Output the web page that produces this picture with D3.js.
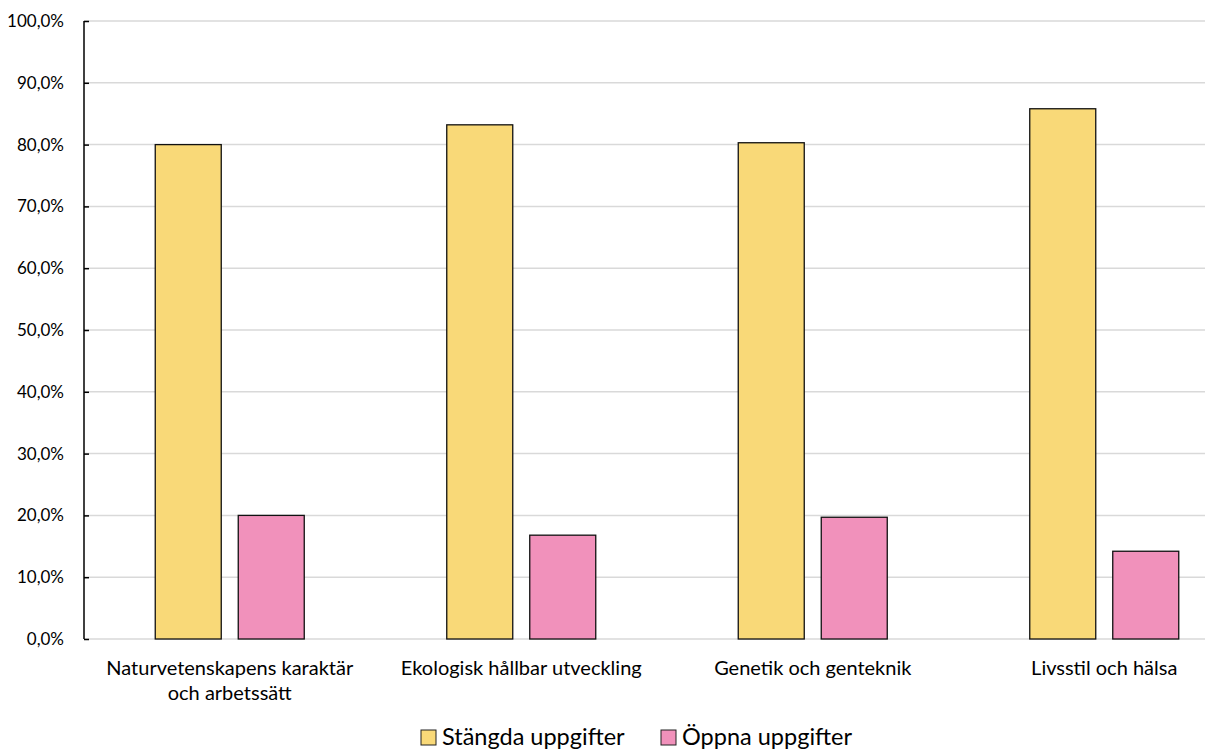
<!DOCTYPE html>
<html><head><meta charset="utf-8">
<script src="https://cdn.jsdelivr.net/npm/d3@7"></script>
<style>body{margin:0;background:#fff;} svg{display:block;font-family:Lato, "Open Sans", sans-serif;}</style>
</head><body>
<svg id="c" width="1205" height="749"></svg>
<script>
const categories = [["Naturvetenskapens karaktär","och arbetssätt"],["Ekologisk hållbar utveckling"],["Genetik och genteknik"],["Livsstil och hälsa"]];
const seriesNames = ["Stängda uppgifter","Öppna uppgifter"];
const closedValues = [80.0, 83.2, 80.3, 85.8];
const openValues = [20.0, 16.8, 19.7, 14.2];
const yTicks = [0,10,20,30,40,50,60,70,80,90,100];
const colors = ["#F9D978","#F191BB"];

const svg = d3.select("#c");
const x0 = d3.scaleBand().domain(d3.range(categories.length)).range([84, 1250]).paddingInner(0).paddingOuter(0);
const y = d3.scaleLinear().domain([0,100]).range([639, 21]);
const barW = 66, gap = 17;

// gridlines
svg.append("g").selectAll("line").data(yTicks).join("line")
  .attr("x1", 84).attr("x2", 1205).attr("y1", d=>y(d)).attr("y2", d=>y(d))
  .attr("stroke", "#d9d9d9").attr("stroke-width", 1.5);

// y axis
const yAxis = d3.axisLeft(y).tickValues(yTicks).tickSize(-5).tickPadding(20)
  .tickFormat(d => d.toFixed(1).replace(".", ",") + "%");
const ga = svg.append("g").attr("transform","translate(84,0)").call(yAxis);
ga.select(".domain").attr("stroke","#000").attr("stroke-width",1.5).attr("d","M0,21V639");
ga.selectAll(".tick line").attr("stroke","#000").attr("stroke-width",1.5);
ga.selectAll(".tick text").attr("font-size",17).attr("fill","#000").attr("font-family","Lato, sans-serif");

// bars
const data = categories.map((c,i)=>({i, vals:[closedValues[i], openValues[i]]}));
const groups = svg.append("g").selectAll("g").data(data).join("g");
groups.selectAll("rect").data(d => d.vals.map((v,k)=>({i:d.i,k,v}))).join("rect")
  .attr("x", d => x0(d.i) + x0.bandwidth()/2 - (barW*2+gap)/2 + d.k*(barW+gap))
  .attr("width", barW)
  .attr("y", d => y(d.v))
  .attr("height", d => y(0) - y(d.v))
  .attr("fill", d => colors[d.k])
  .attr("stroke", "#111").attr("stroke-width", 1.3);

// x labels
const xl = svg.append("g").selectAll("text").data(categories).join("text")
  .attr("text-anchor","middle").attr("font-size",20).attr("fill","#000")
  .attr("x",(d,i)=> x0(i)+x0.bandwidth()/2).attr("y",675);
xl.selectAll("tspan").data(d=>d).join("tspan")
  .attr("x",function(){return d3.select(this.parentNode).attr("x");})
  .attr("dy",(d,j)=> j===0?0:25).text(d=>d);

// legend
const legX = [421, 661];
const lg = svg.append("g").selectAll("g").data(seriesNames).join("g")
  .attr("transform",(d,i)=>`translate(${legX[i]},730)`);
lg.append("rect").attr("width",15).attr("height",15).attr("fill",(d,i)=>colors[i]).attr("stroke","#222").attr("stroke-width",1);
lg.append("text").attr("x",21).attr("y",15).attr("font-size",23.5).attr("fill","#000").text(d=>d);
</script>
</body></html>
